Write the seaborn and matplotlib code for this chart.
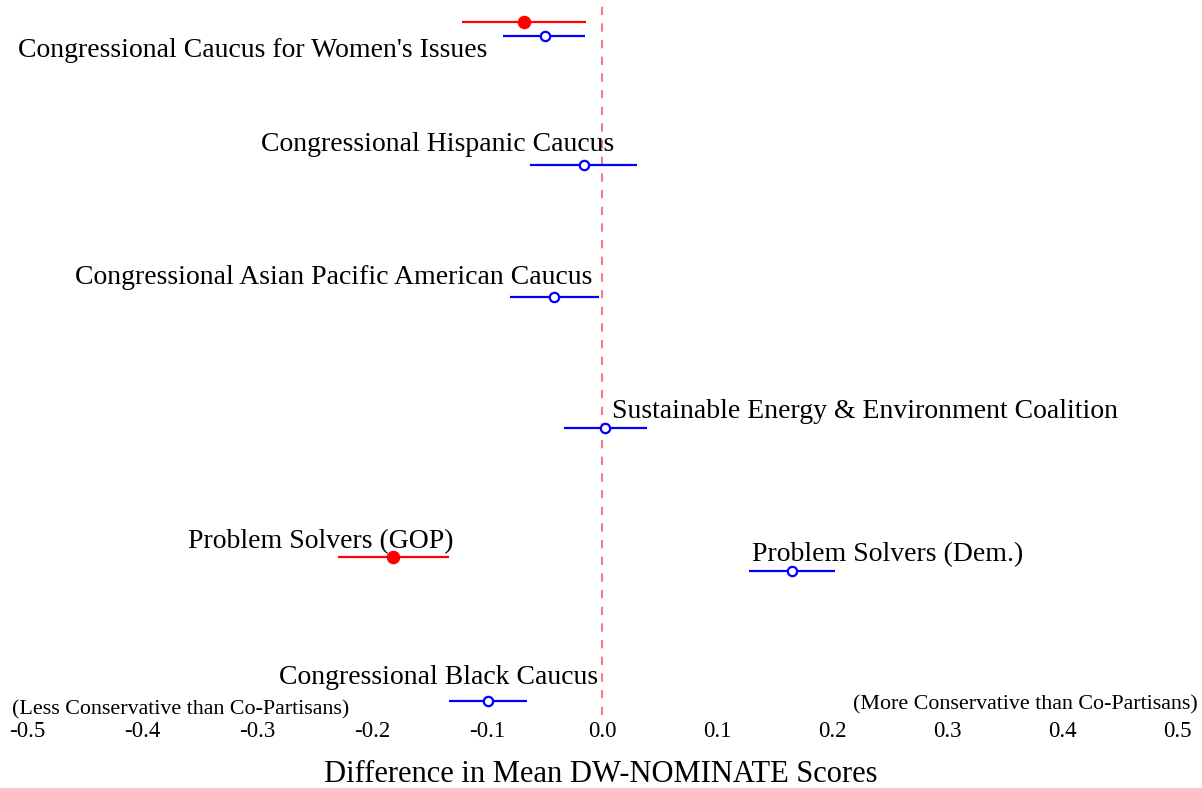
import numpy as np
import pandas as pd
import matplotlib
matplotlib.use('Agg')
import matplotlib.pyplot as plt
import seaborn as sns

# caucus estimates (difference in mean DW-NOMINATE vs co-partisans)
caucus = ["Women's Issues (GOP)", "Women's Issues (Dem.)", "Hispanic", "Asian Pacific American",
          "Sustainable Energy", "Problem Solvers (GOP)", "Problem Solvers (Dem.)", "Black"]
party = ['GOP', 'Dem', 'Dem', 'Dem', 'Dem', 'GOP', 'Dem', 'Dem']
est = [-0.068, -0.050, -0.016, -0.042, 0.003, -0.182, 0.165, -0.099]
lo = [-0.122, -0.086, -0.063, -0.080, -0.033, -0.230, 0.128, -0.133]
hi = [-0.014, -0.015, 0.030, -0.003, 0.039, -0.133, 0.203, -0.065]
ypos = [6.16, 6.06, 5.08, 4.07, 3.08, 2.095, 1.99, 1.0]

# text labels and where they sit
labels = ["Congressional Caucus for Women's Issues", "Congressional Hispanic Caucus",
          "Congressional Asian Pacific American Caucus", "Sustainable Energy & Environment Coalition",
          "Problem Solvers (GOP)", "Problem Solvers (Dem.)", "Congressional Black Caucus"]
label_x = [-0.100, 0.011, -0.008, 0.009, -0.129, 0.130, -0.003]
label_y = [5.95, 5.23, 4.22, 3.20, 2.215, 2.115, 1.18]
label_ha = ['right', 'right', 'right', 'left', 'right', 'left', 'right']

ticks = [-0.5, -0.4, -0.3, -0.2, -0.1, 0.0, 0.1, 0.2, 0.3, 0.4, 0.5]

df = pd.DataFrame({'caucus': caucus, 'party': party, 'est': est, 'lo': lo, 'hi': hi, 'y': ypos})

sns.set_style('white')
plt.rcParams['font.family'] = ['Liberation Serif', 'DejaVu Serif']
plt.rcParams['text.color'] = 'black'
plt.rcParams['xtick.color'] = 'black'
plt.rcParams['axes.labelcolor'] = 'black'

fig = plt.figure(figsize=(12.02, 7.88), dpi=100)
ax = fig.add_axes([0, 0.0926, 1, 0.9074])

colors = {'GOP': 'red', 'Dem': 'blue'}
ax.axvline(0, color='#f08080', linestyle='--', linewidth=1.5, dashes=(4, 4))

for _, r in df.iterrows():
    ax.hlines(r['y'], r['lo'], r['hi'], color=colors[r['party']], linewidth=1.6)

gop = df[df['party'] == 'GOP']
dem = df[df['party'] == 'Dem']
sns.scatterplot(data=gop, x='est', y='y', color='red', s=95, edgecolor='red', linewidth=0, ax=ax, zorder=3)
sns.scatterplot(data=dem, x='est', y='y', facecolor='white', s=45, edgecolor='blue', linewidth=1.6, ax=ax, zorder=3)

for t, x, y, ha in zip(labels, label_x, label_y, label_ha):
    ax.text(x, y, t, ha=ha, va='center', fontsize=20)

ax.text(-0.513, 0.93, '(Less Conservative than Co-Partisans)', ha='left', va='center', fontsize=15.8)
ax.text(0.518, 0.97, '(More Conservative than Co-Partisans)', ha='right', va='center', fontsize=15.8)

ax.set_xlim(-0.5235, 0.5217)
ax.set_ylim(0.894, 6.331)
ax.set_xticks(ticks)
ax.set_xticklabels(['%.1f' % t for t in ticks])
ax.set_yticks([])
ax.tick_params(axis='x', length=0, pad=4, labelsize=16.5)
ax.set_xlabel('Difference in Mean DW-NOMINATE Scores', fontsize=22, labelpad=13)
ax.set_ylabel('')
sns.despine(left=True, bottom=True)

fig.savefig('out.png', dpi=100)
